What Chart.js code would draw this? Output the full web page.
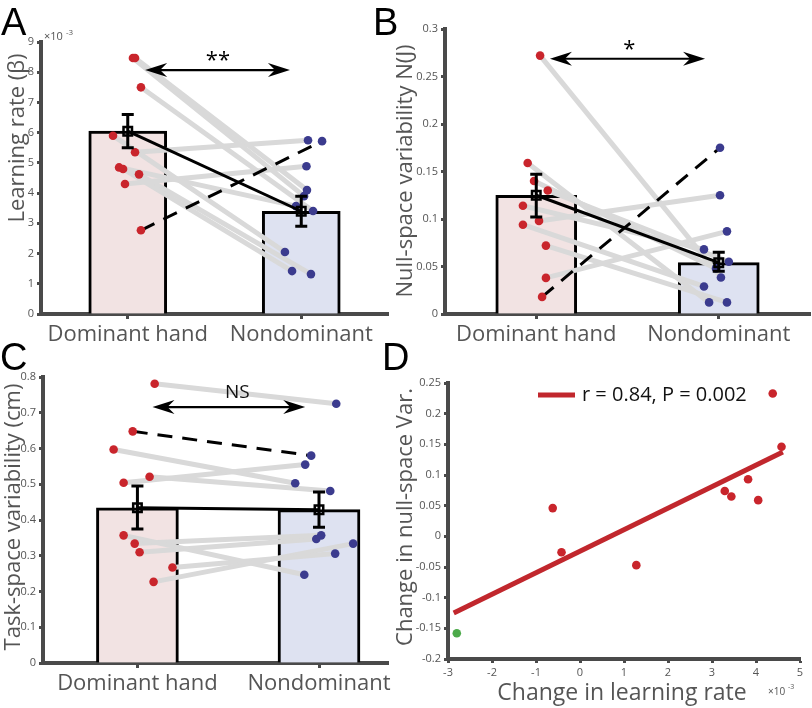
<!DOCTYPE html>
<html>
<head>
<meta charset="utf-8">
<script src="https://cdn.jsdelivr.net/npm/chart.js@4.4.1/dist/chart.umd.min.js"></script>
<style>
  body { margin: 0; background: #fff; }
  #fig { position: relative; width: 812px; height: 708px; overflow: hidden; }
  .panel { position: absolute; }
  .letter { position: absolute; font: 38px "Liberation Sans", Arial, sans-serif; line-height: 38px; color: #000; z-index: 2; }
</style>
</head>
<body>
<div id="fig">
  <div class="panel" style="left:0;top:0"><canvas id="chartA" width="400" height="345"></canvas></div>
  <div class="panel" style="left:385px;top:0"><canvas id="chartB" width="427" height="345"></canvas></div>
  <div class="panel" style="left:0;top:345px"><canvas id="chartC" width="400" height="363"></canvas></div>
  <div class="panel" style="left:385px;top:345px"><canvas id="chartD" width="427" height="363"></canvas></div>
  <div class="letter" style="left:1px;top:3px">A</div>
  <div class="letter" style="left:373px;top:3px">B</div>
  <div class="letter" style="left:0;top:338px">C</div>
  <div class="letter" style="left:382px;top:338px">D</div>
</div>
<script>
const groups = ['Dominant hand', 'Nondominant'];

// A: learning rate (x 10^-3), one entry per subject, dom / nondom paired by index
const lrMean = [6.05, 3.4];
const lrErrLo = [5.5, 2.9];
const lrErrHi = [6.6, 3.9];
const lrDom = [8.47, 8.47, 7.5, 5.9, 4.8, 4.62, 4.85, 5.35, 4.3, 2.77];
const lrNon = [3.9, 4.1, 3.41, 2.05, 1.42, 1.32, 3.57, 5.75, 4.89, 5.72];
const lrDomX = [1.03, 1.042, 1.076, 0.915, 0.973, 1.065, 0.95, 1.042, 0.984, 1.076];
const lrNonX = [2.016, 2.033, 2.068, 1.906, 1.947, 2.056, 1.97, 2.039, 2.03, 2.12];

// B: null-space variability N(J)
const nsMean = [0.125, 0.054];
const nsErrLo = [0.102, 0.045];
const nsErrHi = [0.147, 0.065];
const nsDom = [0.159, 0.272, 0.072, 0.14, 0.094, 0.13, 0.038, 0.098, 0.114, 0.018];
const nsNon = [0.0122, 0.0385, 0.0122, 0.048, 0.029, 0.055, 0.087, 0.125, 0.068, 0.175];
const nsDomX = [0.953, 1.021, 1.053, 0.988, 0.927, 1.063, 1.053, 1.015, 0.927, 1.032];
const nsNonX = [1.947, 2.012, 2.045, 1.985, 1.919, 2.055, 2.045, 2.007, 1.919, 2.007];

// C: task-space variability (cm)
const tsMean = [0.434, 0.429];
const tsErrLo = [0.375, 0.38];
const tsErrHi = [0.495, 0.478];
const tsDom = [0.781, 0.597, 0.504, 0.521, 0.357, 0.334, 0.31, 0.267, 0.227, 0.648];
const tsNon = [0.725, 0.503, 0.555, 0.481, 0.247, 0.357, 0.347, 0.306, 0.334, 0.58];
const tsDomX = [1.095, 0.869, 0.924, 1.067, 0.924, 0.985, 1.012, 1.193, 1.089, 0.974];
const tsNonX = [2.095, 1.869, 1.924, 2.062, 1.919, 2.012, 1.985, 2.089, 2.188, 1.957];

// the subject drawn dashed in A-C and green in D
const outlier = 9;

// D: change in learning rate (x 10^-3) vs change in null-space var.
const dLr = [4.58, 4.38, 4.05, 3.82, 3.44, 3.29, 1.28, -0.42, -0.62, -2.8];
const dNs = [0.146, 0.233, 0.059, 0.093, 0.065, 0.074, -0.047, -0.026, 0.046, -0.158];
const fitX = [-2.87, 4.61];
const fitY = [-0.125, 0.1375];
const fitLabel = 'r = 0.84, P = 0.002';

const FONT = '"Open Sans", "Noto Sans", sans-serif';
const AXIS = '#4a4a4a';
const TXT = '#555555';
const RED = '#c9252c';
const BLUE = '#3b3b8e';
const GREEN = '#4caa4a';
const PAIR = '#d9d9d9';

Chart.defaults.font.family = FONT;
Chart.defaults.animation = false;
Chart.defaults.events = [];
Chart.defaults.plugins.legend.display = false;
Chart.defaults.plugins.tooltip.enabled = false;

function arrowHead(ctx, tip, y, dir) {
  ctx.beginPath();
  ctx.moveTo(tip, y);
  ctx.lineTo(tip - dir * 22, y - 7);
  ctx.lineTo(tip - dir * 15, y);
  ctx.lineTo(tip - dir * 22, y + 7);
  ctx.closePath();
  ctx.fill();
}

// error bars, double arrows and loose text
const extras = {
  id: 'extras',
  afterDatasetsDraw(chart, args, opts) {
    const ctx = chart.ctx;
    const x = chart.scales.x, y = chart.scales.y;
    ctx.save();
    ctx.strokeStyle = '#000';
    ctx.fillStyle = '#000';
    if (opts.err) {
      ctx.lineWidth = 3;
      opts.err.lo.forEach((lo, i) => {
        const px = x.getPixelForValue(i + 1);
        const y1 = y.getPixelForValue(lo), y2 = y.getPixelForValue(opts.err.hi[i]);
        ctx.beginPath();
        ctx.moveTo(px, y1); ctx.lineTo(px, y2);
        ctx.moveTo(px - 6, y1); ctx.lineTo(px + 6, y1);
        ctx.moveTo(px - 6, y2); ctx.lineTo(px + 6, y2);
        ctx.stroke();
      });
    }
    if (opts.arrow) {
      const a = opts.arrow;
      const x1 = x.getPixelForValue(a.x1), x2 = x.getPixelForValue(a.x2), py = y.getPixelForValue(a.y);
      ctx.lineWidth = 2.2;
      ctx.beginPath(); ctx.moveTo(x1 + 10, py); ctx.lineTo(x2 - 10, py); ctx.stroke();
      arrowHead(ctx, x1, py, -1);
      arrowHead(ctx, x2, py, 1);
    }
    if (opts.legend) {
      const l = opts.legend;
      ctx.strokeStyle = l.color; ctx.lineWidth = 5;
      ctx.beginPath(); ctx.moveTo(l.x, l.y); ctx.lineTo(l.x + 37, l.y); ctx.stroke();
    }
    (opts.texts || []).forEach(t => {
      const px = t.data ? x.getPixelForValue(t.x) : t.x;
      const py = t.data ? y.getPixelForValue(t.y) : t.y;
      ctx.save();
      ctx.translate(px, py);
      if (t.rotate) ctx.rotate(t.rotate);
      ctx.font = (t.size || 12) + 'px ' + FONT;
      ctx.fillStyle = t.color || TXT;
      ctx.textAlign = t.align || 'center';
      ctx.textBaseline = t.baseline || 'alphabetic';
      ctx.fillText(t.text, 0, 0);
      ctx.restore();
    });
    ctx.restore();
  }
};
Chart.register(extras);

function decimals(v) { return String(+v.toFixed(2)); }

function pairedPanel(id, p) {
  const pairs = p.dom.map((v, i) => ({
    type: 'line',
    data: [{x: p.domX[i], y: v}, {x: p.nonX[i], y: p.non[i]}],
    borderColor: i === outlier ? '#000' : PAIR,
    borderWidth: i === outlier ? 3 : 5,
    borderDash: i === outlier ? [15, 10] : [],
    pointRadius: 0,
    order: i === outlier ? 6 : 8
  }));
  new Chart(document.getElementById(id), {
    type: 'bar',
    data: {
      datasets: [
        {
          type: 'bar',
          data: p.mean.map((m, i) => ({x: i + 1, y: m})),
          backgroundColor: ['#f2e3e3', '#dee2f1'],
          borderColor: '#000',
          borderWidth: 3,
          barThickness: p.barW,
          order: 10
        },
        ...pairs,
        {
          type: 'scatter',
          data: p.dom.map((v, i) => ({x: p.domX[i], y: v})),
          pointRadius: 4.3, backgroundColor: RED, borderWidth: 0, order: 4
        },
        {
          type: 'scatter',
          data: p.non.map((v, i) => ({x: p.nonX[i], y: v})),
          pointRadius: 4.3, backgroundColor: BLUE, borderWidth: 0, order: 4
        },
        {
          type: 'line',
          data: p.mean.map((m, i) => ({x: i + 1, y: m})),
          borderColor: '#000', borderWidth: 3,
          pointStyle: 'rect', pointRadius: 6, pointBorderWidth: 2.5,
          pointBorderColor: '#000', pointBackgroundColor: 'rgba(0,0,0,0)',
          order: 2
        }
      ]
    },
    options: {
      responsive: false,
      layout: { autoPadding: false, padding: { left: 0, right: p.padR, top: p.padT, bottom: 0 } },
      scales: {
        x: {
          type: 'linear', min: p.xMin, max: p.xMax, offset: false, z: 1,
          afterBuildTicks: s => { s.ticks = [{value: 1}, {value: 2}]; },
          afterFit: s => { s.height = p.xH; },
          ticks: { callback: (v, i) => groups[i], font: {size: 22}, color: TXT, padding: 3, maxRotation: 0, autoSkip: false },
          grid: { drawOnChartArea: false, offset: false, tickLength: 5, tickWidth: 3, tickColor: AXIS },
          border: { color: AXIS, width: 4 }
        },
        y: {
          min: 0, max: p.yMax, z: 1,
          afterFit: s => { s.width = p.yW; },
          ticks: { stepSize: p.step, font: {size: 11}, color: TXT, padding: 3, callback: decimals },
          grid: { drawOnChartArea: false, tickLength: 4, tickWidth: 3, tickColor: AXIS },
          border: { color: AXIS, width: 4 }
        }
      },
      plugins: {
        extras: {
          err: { lo: p.errLo, hi: p.errHi },
          arrow: p.arrow,
          texts: p.texts
        }
      }
    }
  });
}

pairedPanel('chartA', {
  mean: lrMean, errLo: lrErrLo, errHi: lrErrHi,
  dom: lrDom, non: lrNon, domX: lrDomX, nonX: lrNonX,
  xMin: 0.5, xMax: 2.5, yMax: 9, step: 1, barW: 78,
  padR: 12, padT: 42, yW: 41, xH: 31,
  arrow: { x1: 1.1, x2: 1.935, y: 8.07 },
  texts: [
    { text: 'Learning rate (β)', x: 18, y: 138, rotate: -Math.PI / 2, size: 22, baseline: 'middle' },
    { text: '×10', x: 44, y: 40, size: 11, align: 'left' },
    { text: '-3', x: 66, y: 35, size: 8, align: 'left' },
    { text: '**', data: true, x: 1.52, y: 8.17, size: 22, color: '#000' }
  ]
});

pairedPanel('chartB', {
  mean: nsMean, errLo: nsErrLo, errHi: nsErrHi,
  dom: nsDom, non: nsNon, domX: nsDomX, nonX: nsNonX,
  xMin: 0.5, xMax: 2.5, yMax: 0.3, step: 0.05, barW: 81,
  padR: 2, padT: 29, yW: 60, xH: 31,
  arrow: { x1: 1.075, x2: 1.925, y: 0.2687 },
  texts: [
    { text: 'Null-space variability N(J)', x: 21, y: 171, rotate: -Math.PI / 2, size: 22, baseline: 'middle' },
    { text: '*', data: true, x: 1.51, y: 0.272, size: 22, color: '#000' }
  ]
});

pairedPanel('chartC', {
  mean: tsMean, errLo: tsErrLo, errHi: tsErrHi,
  dom: tsDom, non: tsNon, domX: tsDomX, nonX: tsNonX,
  xMin: 0.48, xMax: 2.38, yMax: 0.8, step: 0.1, barW: 82,
  padR: 12, padT: 32, yW: 43, xH: 45,
  arrow: { x1: 1.083, x2: 1.924, y: 0.716 },
  texts: [
    { text: 'Task-space variability (cm)', x: 14, y: 172, rotate: -Math.PI / 2, size: 22, baseline: 'middle' },
    { text: 'NS', data: true, x: 1.55, y: 0.742, size: 19, color: '#111' }
  ]
});

new Chart(document.getElementById('chartD'), {
  type: 'scatter',
  data: {
    datasets: [
      {
        type: 'line',
        data: fitX.map((v, i) => ({x: v, y: fitY[i]})),
        borderColor: '#c1272d', borderWidth: 5, pointRadius: 0, order: 3
      },
      {
        data: dLr.map((v, i) => ({x: v, y: dNs[i]})),
        pointRadius: 4.3,
        backgroundColor: dLr.map((v, i) => i === outlier ? GREEN : RED),
        borderWidth: 0, order: 1
      }
    ]
  },
  options: {
    responsive: false,
    layout: { autoPadding: false, padding: { left: 0, right: 12, top: 38, bottom: 0 } },
    scales: {
      x: {
        type: 'linear', min: -3, max: 5, z: 1,
        afterFit: s => { s.height = 49; },
        ticks: { stepSize: 1, font: {size: 11}, color: TXT, padding: 3, maxRotation: 0 },
        grid: { drawOnChartArea: false, tickLength: 4, tickWidth: 3, tickColor: AXIS },
        border: { color: AXIS, width: 4 }
      },
      y: {
        min: -0.2, max: 0.25, z: 1,
        afterFit: s => { s.width = 63; },
        ticks: { stepSize: 0.05, font: {size: 11}, color: TXT, padding: 3, callback: decimals },
        grid: { drawOnChartArea: false, tickLength: 4, tickWidth: 3, tickColor: AXIS },
        border: { color: AXIS, width: 4 }
      }
    },
    plugins: {
      extras: {
        legend: { x: 153, y: 50, color: '#c1272d' },
        texts: [
          { text: fitLabel, x: 197, y: 56, size: 20, color: '#111', align: 'left' },
          { text: 'Change in null-space Var.', x: 21, y: 172, rotate: -Math.PI / 2, size: 22, baseline: 'middle' },
          { text: 'Change in learning rate', x: 237, y: 355, size: 23 },
          { text: '×10', x: 383, y: 350, size: 10, align: 'left' },
          { text: '-3', x: 403, y: 344, size: 7, align: 'left' }
        ]
      }
    }
  }
});
</script>
</body>
</html>
